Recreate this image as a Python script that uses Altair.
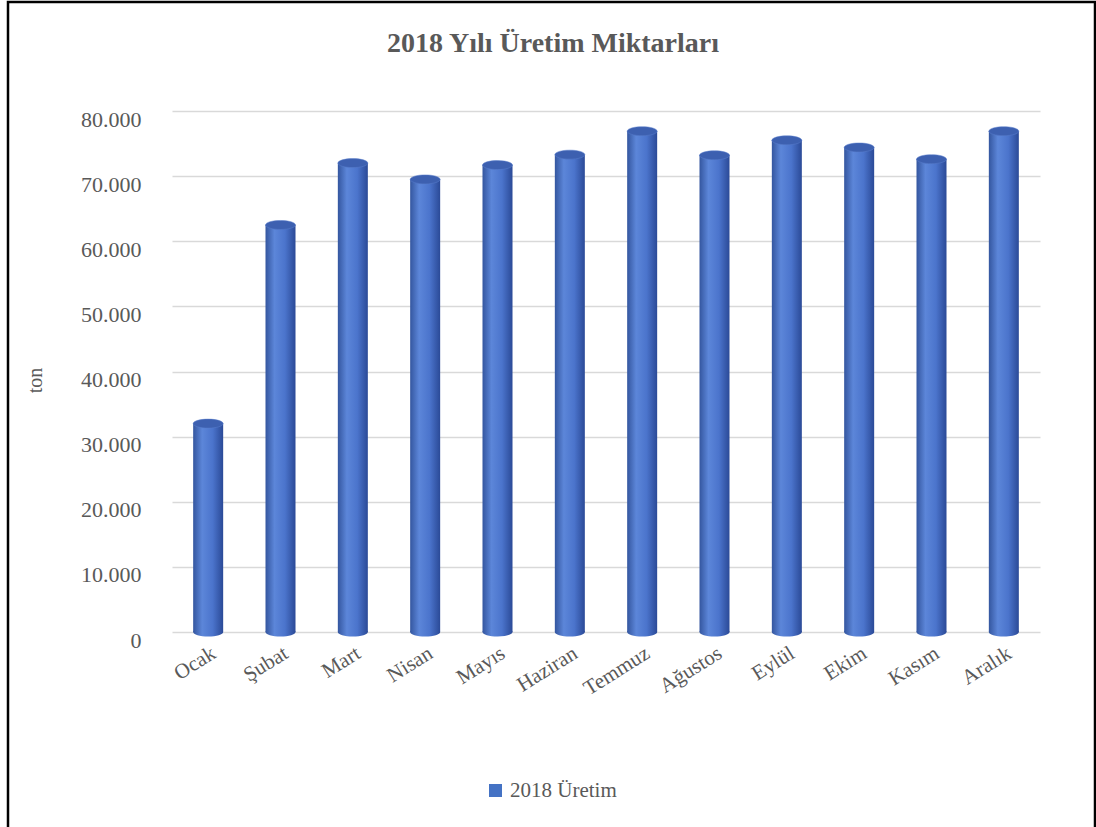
import altair as alt
import pandas as pd

months = ["Ocak", "Şubat", "Mart", "Nisan", "Mayıs", "Haziran",
          "Temmuz", "Ağustos", "Eylül", "Ekim", "Kasım", "Aralık"]
production = [32000, 62500, 72000, 69500, 71700, 73300,
              76900, 73200, 75500, 74400, 72600, 76900]
series_name = "2018 Üretim"
y_ticks = [0, 10000, 20000, 30000, 40000, 50000, 60000, 70000, 80000]

df = pd.DataFrame({"month": months, "value": production})

SERIF = "Liberation Serif"
GRAY = "#595959"
PLOT_W, PLOT_H = 868, 521
PAD_L, PAD_T = 172, 111

cyl = alt.LinearGradient(
    gradient="linear", x1=0, x2=1, y1=0, y2=0,
    stops=[alt.GradientStop(offset=0, color="#34569F"),
           alt.GradientStop(offset=0.3, color="#5C86D9"),
           alt.GradientStop(offset=0.65, color="#4B74CC"),
           alt.GradientStop(offset=1, color="#2B4A97")])

x_enc = alt.X("month:N", sort=months, title=None,
              scale=alt.Scale(paddingInner=0.58, paddingOuter=0.29),
              axis=alt.Axis(labelAngle=328, labelAlign="right", labelBaseline="top",
                            labelPadding=10, labelFont=SERIF, labelFontSize=21,
                            labelColor=GRAY, domain=False, ticks=False, grid=False))
y_scale = alt.Scale(domain=[0, 80000], nice=False)
y_enc = alt.Y("value:Q", scale=y_scale, title="ton",
              axis=alt.Axis(values=y_ticks, labelExpr="replace(format(datum.value, ',d'), ',', '.')",
                            labelFont=SERIF, labelFontSize=22, labelColor=GRAY,
                            labelOffset=8, labelPadding=31, domain=False, ticks=False,
                            gridColor="#D9D9D9", gridWidth=1.5,
                            titleFont=SERIF, titleFontSize=20, titleFontWeight="normal",
                            titleColor=GRAY, titleX=-127, titleY=269, titleAngle=270,
                            titleAlign="center"))

base = alt.Chart(df)

bars = base.mark_bar(color=cyl, size=30).encode(x=x_enc, y=y_enc)

ellipse = "M -1 0 A 1 0.3 0 1 1 1 0 A 1 0.3 0 1 1 -1 0 Z"
bottoms = base.mark_point(shape=ellipse, size=900, filled=True, color=cyl, opacity=1).encode(
    x=alt.X("month:N", sort=months), y=alt.Y("zero:Q", scale=y_scale)
).transform_calculate(zero="0")
tops = base.mark_point(shape=ellipse, size=900, filled=True, color="#3D60B0", opacity=1,
                       stroke="#5A7FCC", strokeWidth=0.5).encode(
    x=alt.X("month:N", sort=months), y=alt.Y("value:Q", scale=y_scale))

legend_layer = base.mark_square(size=169, opacity=1).encode(
    color=alt.Color("s:N", scale=alt.Scale(domain=[series_name], range=["#4472C4"]),
                    legend=alt.Legend(title=None, orient="none", legendX=313, legendY=669,
                                      labelFont=SERIF, labelFontSize=21, labelColor=GRAY,
                                      symbolType="square", symbolSize=169, padding=0,
                                      labelOffset=4))
).transform_calculate(s="'" + series_name + "'").transform_filter("false")

border = alt.Chart(pd.DataFrame({"k": [0]})).mark_rect(
    fill="transparent", stroke="#000000", strokeWidth=2.5).encode(
    x=alt.value(8 - PAD_L), x2=alt.value(1095 - PAD_L),
    y=alt.value(2 - PAD_T), y2=alt.value(840 - PAD_T))

chart = alt.layer(bars, bottoms, tops, legend_layer, border).properties(
    width=PLOT_W, height=PLOT_H,
    view=alt.ViewBackground(stroke="transparent", strokeWidth=0),
    title=alt.TitleParams("2018 Yılı Üretim Miktarları", font=SERIF, fontSize=28,
                          fontWeight="bold", color=GRAY, anchor="middle", dx=-53,
                          offset=0, baseline="bottom", dy=85),
    autosize=alt.AutoSizeParams(type="none"),
    padding={"left": PAD_L, "top": PAD_T, "right": 1096 - PAD_L - PLOT_W,
             "bottom": 827 - PAD_T - PLOT_H},
).configure_view(stroke="transparent", strokeWidth=0).configure(background="white")

chart.save("out.html", embed_options={"renderer": "svg", "actions": False})
